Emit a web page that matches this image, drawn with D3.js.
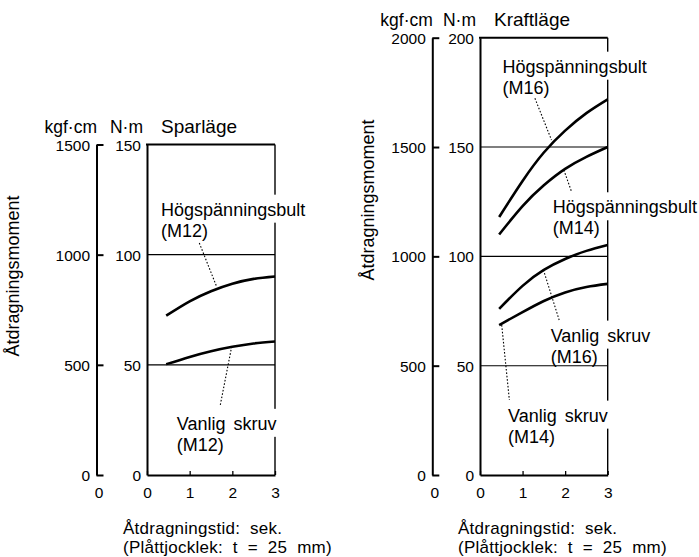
<!DOCTYPE html>
<html>
<head>
<meta charset="utf-8">
<script src="https://cdn.jsdelivr.net/npm/d3@7"></script>
<style>
  body { margin: 0; background: #fff; }
  svg { display: block; }
  text { font-family: "Liberation Sans", Arial, Helvetica, sans-serif; fill: #000; }
</style>
</head>
<body>
<svg id="chart" width="699" height="557"></svg>
<script>
// Tightening time (s) at which each curve is sampled
const times = [0.45, 1, 1.5, 2, 2.5, 3];

// Sparläge (economy mode): tightening torque in N·m
const sparHogM12 = [72.3, 78.8, 83.4, 86.8, 89.0, 90.1];
const sparVanligM12 = [50.3, 53.6, 56.2, 58.2, 59.7, 60.6];

// Kraftläge (power mode): tightening torque in N·m
const kraftHogM16 = [118, 134.5, 147.5, 157.5, 165.5, 171.8];
const kraftHogM14 = [110, 123, 132.5, 140, 145.5, 150];
const kraftVanligM16 = [76, 86.5, 93.8, 98.8, 102.5, 105.2];
const kraftVanligM14 = [68.6, 74.5, 79.6, 83.5, 86.0, 87.4];

// Axis tick values
const timeTicks = [0, 1, 2, 3];
const sparNmTicks = [0, 50, 100, 150];
const sparKgfTicks = [0, 500, 1000, 1500];
const kraftNmTicks = [0, 50, 100, 150, 200];
const kraftKgfTicks = [0, 500, 1000, 1500, 2000];

const yTitle = "Åtdragningsmoment";
const xTitle = ["Åtdragningstid:  sek.", "(Plåttjocklek:  t  =  25  mm)"];

// Panel layout; annotation anchors are given in data units (s, N·m)
const panels = [
  {
    title: "Sparläge",
    nmMax: 150, nmTicks: sparNmTicks, kgfMax: 1500, kgfTicks: sparKgfTicks,
    left: 147, right: 275, top: 144.5, bottom: 475, kgfX: 96.5,
    yTitlePos: [13, 276], xTitleX: 123,
    series: [sparHogM12, sparVanligM12],
    notes: [
      { lines: ["Högspänningsbult", "(M12)"], at: [0.33, 117.7], leader: [[1.226, 105.3], [1.63, 85.6]] },
      { lines: ["Vanlig skruv", "(M12)"], at: [0.70, 20.5], leader: [[1.985, 58.3], [1.71, 31.0]] }
    ]
  },
  {
    title: "Kraftläge",
    nmMax: 200, nmTicks: kraftNmTicks, kgfMax: 2000, kgfTicks: kraftKgfTicks,
    left: 480, right: 607.7, top: 37.7, bottom: 475, kgfX: 432.3,
    yTitlePos: [368, 200], xTitleX: 458,
    series: [kraftHogM16, kraftHogM14, kraftVanligM16, kraftVanligM14],
    notes: [
      { lines: ["Högspänningsbult", "(M16)"], at: [0.53, 184.0], leader: [[1.29, 172.3], [1.68, 153.2]] },
      { lines: ["Högspänningsbult", "(M14)"], at: [1.71, 119.7], leader: [[1.97, 139.5], [2.15, 129.6]] },
      { lines: ["Vanlig skruv", "(M16)"], at: [1.66, 61.0], leader: [[1.49, 93.8], [1.86, 70.9]] },
      { lines: ["Vanlig skruv", "(M14)"], at: [0.66, 24.4], leader: [[0.51, 68.6], [0.69, 34.3]] }
    ]
  }
];

const svg = d3.select("#chart");
const intFmt = d3.format("d");
const TICK_FONT = 15.5;

panels.forEach(p => {
  const g = svg.append("g");
  const x = d3.scaleLinear().domain([0, 3]).range([p.left, p.right]);
  const y = d3.scaleLinear().domain([0, p.nmMax]).range([p.bottom, p.top]);
  const yKgf = d3.scaleLinear().domain([0, p.kgfMax]).range([p.bottom, p.top]);

  // horizontal grid lines inside the frame
  g.append("g").selectAll("line")
    .data(p.nmTicks.filter(v => v > 0 && v < p.nmMax))
    .join("line")
    .attr("x1", p.left).attr("x2", p.right)
    .attr("y1", d => y(d)).attr("y2", d => y(d))
    .attr("stroke", "#000").attr("stroke-width", 1.1);

  // right edge of frame (thinner)
  g.append("line")
    .attr("x1", p.right).attr("x2", p.right)
    .attr("y1", p.top).attr("y2", p.bottom)
    .attr("stroke", "#000").attr("stroke-width", 1.4);

  // top edge of frame
  g.append("line")
    .attr("x1", p.left - 1).attr("x2", p.right)
    .attr("y1", p.top).attr("y2", p.top)
    .attr("stroke", "#000").attr("stroke-width", 2);

  // N·m axis (frame left edge)
  const nmAxis = g.append("g")
    .attr("transform", `translate(${p.left},0)`)
    .call(d3.axisLeft(y).tickValues(p.nmTicks).tickFormat(intFmt).tickSize(0).tickPadding(6));
  nmAxis.select(".domain").attr("stroke-width", 2);
  nmAxis.selectAll("text").attr("font-size", TICK_FONT).style("font-family", null).attr("dy", "0.36em");

  // kgf·cm axis, ticks pointing right
  const kgfAxis = g.append("g")
    .attr("transform", `translate(${p.kgfX},0)`)
    .call(d3.axisLeft(yKgf).tickValues(p.kgfTicks).tickFormat(intFmt)
      .tickSizeInner(-7).tickSizeOuter(0).tickPadding(6.5));
  kgfAxis.select(".domain").attr("stroke-width", 2);
  kgfAxis.selectAll(".tick line").attr("stroke-width", 2);
  kgfAxis.selectAll("text").attr("font-size", TICK_FONT).style("font-family", null).attr("dy", "0.36em");

  // time axis with small inward ticks
  const tAxis = g.append("g")
    .attr("transform", `translate(0,${p.bottom})`)
    .call(d3.axisBottom(x).tickValues(timeTicks).tickFormat(intFmt)
      .tickSizeInner(-4).tickSizeOuter(0).tickPadding(12));
  tAxis.select(".domain").attr("stroke-width", 2);
  tAxis.selectAll(".tick line").attr("stroke-width", 1.3);
  tAxis.selectAll("text").attr("font-size", TICK_FONT).style("font-family", null);

  // "0" under the kgf·cm axis
  g.append("text")
    .attr("x", p.kgfX + 2.5).attr("y", p.bottom + 12).attr("dy", "0.71em")
    .attr("text-anchor", "middle").attr("font-size", TICK_FONT)
    .text(intFmt(timeTicks[0]));

  // unit headers and panel title
  g.append("text").attr("x", p.kgfX + 0.5).attr("y", p.top - 12)
    .attr("text-anchor", "end").attr("font-size", 17.5).text("kgf·cm");
  g.append("text").attr("x", p.left - 4).attr("y", p.top - 12)
    .attr("text-anchor", "end").attr("font-size", 17.5).text("N·m");
  g.append("text").attr("x", p.left + 14).attr("y", p.top - 12)
    .attr("font-size", 19).text(p.title);

  // y-axis title
  g.append("text")
    .attr("transform", `translate(${p.yTitlePos[0]},${p.yTitlePos[1]}) rotate(-90)`)
    .attr("text-anchor", "middle").attr("dy", "0.35em").attr("font-size", 18)
    .text(yTitle);

  // x-axis title (two lines)
  xTitle.forEach((t, i) => {
    g.append("text")
      .attr("x", p.xTitleX).attr("y", 534 + i * 19)
      .attr("font-size", 17).style("white-space", "pre").style("letter-spacing", "0.25px")
      .text(t);
  });

  // curves
  const line = d3.line()
    .x((d, i) => x(times[i]))
    .y(d => y(d))
    .curve(d3.curveNatural);
  g.append("g").selectAll("path")
    .data(p.series)
    .join("path")
    .attr("d", line)
    .attr("fill", "none")
    .attr("stroke", "#000")
    .attr("stroke-width", 2.6)
    .attr("stroke-linecap", "butt");

  // labels (first line on a white backing where it crosses the frame), then dotted leaders
  p.notes.forEach(n => {
    const lg = g.append("g");
    n.lines.forEach((t, i) => {
      const txt = lg.append("text")
        .attr("x", x(n.at[0])).attr("y", y(n.at[1]) + i * 21)
        .attr("font-size", 18).style("word-spacing", "3px")
        .text(t);
      if (i === 0) {
        const b = txt.node().getBBox();
        lg.insert("rect", "text")
          .attr("x", b.x - 2).attr("y", b.y - 5)
          .attr("width", b.width + 4).attr("height", b.height + 8)
          .attr("fill", "#fff");
      }
    });
    g.append("line")
      .attr("x1", x(n.leader[0][0])).attr("y1", y(n.leader[0][1]))
      .attr("x2", x(n.leader[1][0])).attr("y2", y(n.leader[1][1]))
      .attr("stroke", "#000").attr("stroke-width", 1.1)
      .attr("stroke-dasharray", "1.6,1.8");
  });
});
</script>
</body>
</html>
